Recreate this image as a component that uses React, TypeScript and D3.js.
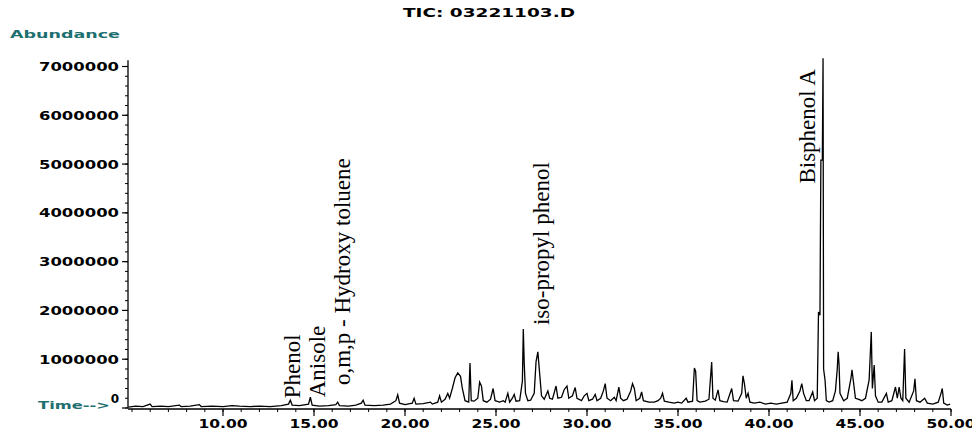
import React from "react";
import * as d3 from "d3";

const chartTitle = "TIC: 03221103.D";
const yAxisTitle = "Abundance";
const xAxisTitle = "Time-->";
const yTickValues = [0, 1000000, 2000000, 3000000, 4000000, 5000000, 6000000, 7000000];
const xTickValues = [10, 15, 20, 25, 30, 35, 40, 45, 50];

// retention time (min)
const times = [
  4.8, 5.2, 5.6, 6.0, 6.1, 6.6, 7.0, 7.6, 7.7, 8.2, 8.7, 8.8, 9.4, 10.0, 10.5, 10.9, 11.5, 12.0, 12.6, 13.2,
  13.6, 13.7, 13.8, 14.2, 14.7, 14.8, 14.9, 15.3, 15.8, 16.2, 16.3, 16.4, 16.9, 17.3, 17.6, 17.7, 17.8, 18.3, 18.8, 19.2,
  19.5, 19.6, 19.7, 20.0, 20.4, 20.5, 20.6, 21.0, 21.4, 21.5, 21.8, 21.9, 22.0, 22.2, 22.35, 22.45, 22.6, 22.75, 22.9, 23.05,
  23.15, 23.3, 23.5, 23.57, 23.64, 23.8, 24.0, 24.1, 24.2, 24.3, 24.5, 24.7, 24.84, 24.95, 25.2, 25.4, 25.5, 25.65, 25.75, 25.9,
  26.0, 26.1, 26.3, 26.45, 26.5, 26.55, 26.62, 26.75, 26.9, 27.1, 27.2, 27.3, 27.4, 27.5, 27.65, 27.85, 27.95, 28.1, 28.3, 28.4,
  28.6, 28.75, 28.9, 29.0, 29.2, 29.35, 29.45, 29.7, 29.85, 30.0, 30.1, 30.3, 30.45, 30.55, 30.75, 30.9, 31.0, 31.1, 31.3, 31.5,
  31.6, 31.75, 31.85, 32.0, 32.2, 32.4, 32.5, 32.6, 32.7, 32.9, 33.0, 33.1, 33.4, 33.7, 33.9, 34.05, 34.15, 34.25, 34.5, 34.8,
  35.0, 35.2, 35.45, 35.55, 35.8, 35.9, 35.97, 36.05, 36.2, 36.5, 36.7, 36.85, 36.92, 37.05, 37.2, 37.3, 37.5, 37.7, 37.95, 38.05,
  38.3, 38.5, 38.57, 38.65, 38.75, 38.85, 38.95, 39.2, 39.5, 39.8, 40.1, 40.4, 40.7, 41.0, 41.2, 41.26, 41.33, 41.5, 41.7, 41.8,
  41.9, 42.05, 42.2, 42.4, 42.5, 42.65, 42.72, 42.8, 42.85, 42.93, 42.97, 43.0, 43.08, 43.15, 43.3, 43.5, 43.65, 43.75, 43.8, 43.85,
  43.9, 44.1, 44.3, 44.4, 44.5, 44.56, 44.62, 44.75, 44.9, 45.1, 45.3, 45.5, 45.62, 45.68, 45.78, 45.85, 46.0, 46.2, 46.45, 46.55,
  46.75, 46.95, 47.05, 47.15, 47.25, 47.35, 47.45, 47.52, 47.7, 47.95, 48.02, 48.1, 48.3, 48.55, 48.7, 49.0, 49.3, 49.45, 49.52, 49.6,
  49.8, 49.95,
];

// abundance, in millions of counts
const abundanceM = [
  0.02, 0.04, 0.03, 0.08, 0.03, 0.04, 0.03, 0.06, 0.03, 0.04, 0.07, 0.03, 0.04, 0.03, 0.05, 0.04, 0.03, 0.04, 0.03, 0.05,
  0.08, 0.16, 0.06, 0.05, 0.08, 0.22, 0.06, 0.04, 0.05, 0.07, 0.12, 0.05, 0.04, 0.06, 0.1, 0.16, 0.06, 0.05, 0.06, 0.08,
  0.15, 0.27, 0.1, 0.07, 0.1, 0.2, 0.08, 0.09, 0.12, 0.08, 0.12, 0.25, 0.12, 0.18, 0.3, 0.2, 0.4, 0.62, 0.72, 0.65,
  0.4, 0.15, 0.12, 0.92, 0.15, 0.14, 0.2, 0.53, 0.45, 0.15, 0.12, 0.18, 0.4, 0.15, 0.12, 0.15, 0.12, 0.3, 0.12, 0.2,
  0.28, 0.14, 0.15, 0.55, 1.62, 0.92, 0.3, 0.15, 0.16, 0.3, 0.95, 1.15, 0.7, 0.25, 0.18, 0.35, 0.2, 0.18, 0.45, 0.2,
  0.22, 0.38, 0.45, 0.2, 0.25, 0.42, 0.2, 0.15, 0.25, 0.3, 0.15, 0.18, 0.28, 0.15, 0.2, 0.35, 0.5, 0.2, 0.15, 0.22,
  0.15, 0.43, 0.2, 0.15, 0.18, 0.35, 0.5, 0.4, 0.15, 0.2, 0.33, 0.15, 0.12, 0.12, 0.15, 0.2, 0.3, 0.14, 0.12, 0.1,
  0.12, 0.1, 0.2, 0.12, 0.14, 0.82, 0.75, 0.15, 0.12, 0.14, 0.18, 0.94, 0.2, 0.16, 0.37, 0.15, 0.13, 0.12, 0.4, 0.15,
  0.14, 0.3, 0.66, 0.5, 0.2, 0.3, 0.12, 0.1, 0.12, 0.08, 0.1, 0.08, 0.1, 0.12, 0.3, 0.57, 0.15, 0.2, 0.35, 0.5,
  0.3, 0.15, 0.15, 0.33, 0.15, 0.2, 1.97, 1.9, 5.08, 5.08, 7.17, 0.8, 0.57, 0.15, 0.12, 0.15, 0.35, 0.8, 1.15, 0.88,
  0.3, 0.15, 0.2, 0.4, 0.6, 0.78, 0.6, 0.2, 0.18, 0.15, 0.2, 0.57, 1.56, 0.4, 0.88, 0.25, 0.12, 0.12, 0.3, 0.12,
  0.15, 0.43, 0.2, 0.43, 0.2, 0.15, 1.21, 0.2, 0.12, 0.35, 0.6, 0.15, 0.12, 0.2, 0.1, 0.08, 0.12, 0.3, 0.4, 0.1,
  0.06, 0.08,
];

// compound labels: name, retention time where the label sits, abundance where it starts
const labelNames = ["Phenol", "Anisole", "o,m,p - Hydroxy toluene", "iso-propyl phenol", "Bisphenol A"];
const labelTimes = [14.23, 15.6, 16.98, 27.9, 42.55];
const labelLevelsM = [0.2, 0.22, 0.47, 1.7, 4.6];

const W = 972;
const H = 430;
const TEAL = "#1d6f70";

export default function App() {
  const x = d3.scaleLinear().domain([4.78, 50]).range([128, 951]);
  const y = d3.scaleLinear().domain([0, 7000000]).range([408, 66.5]);

  const points: [number, number][] = times.map((t, i) => [t, abundanceM[i] * 1e6]);
  const line = d3
    .line<[number, number]>()
    .x((d) => x(d[0]))
    .y((d) => y(d[1]));

  const xMinor = d3.range(5, 50.01, 1);
  const yMinor = d3.range(0, 7000001, 200000);
  const x0 = x.range()[0];
  const y0 = y(0);

  const labelFont = "bold 12px 'DejaVu Sans', Verdana, sans-serif";
  const smallFont = "bold 11px 'DejaVu Sans', Verdana, sans-serif";

  return (
    <svg width={W} height={H} style={{ position: "absolute", left: 0, top: 0, background: "#fff" }}>
      <text x={403} y={17} textLength={172} lengthAdjust="spacingAndGlyphs"
        style={{ font: labelFont }} fill="#000">{chartTitle}</text>
      <text x={10} y={38} textLength={110} lengthAdjust="spacingAndGlyphs"
        style={{ font: smallFont }} fill={TEAL}>{yAxisTitle}</text>
      <text x={38} y={409} textLength={72} lengthAdjust="spacingAndGlyphs"
        style={{ font: smallFont }} fill={TEAL}>{xAxisTitle}</text>

      {/* y axis */}
      <line x1={x0} x2={x0} y1={y0} y2={y(7130000)} stroke="#000" strokeWidth={1.3} />
      {yMinor.map((v) => (
        <line key={"ym" + v} x1={x0 - 3} x2={x0} y1={y(v)} y2={y(v)} stroke="#000" strokeWidth={1} />
      ))}
      {yTickValues.map((v) => (
        <g key={"yt" + v}>
          <line x1={x0 - 6} x2={x0} y1={y(v)} y2={y(v)} stroke="#000" strokeWidth={1.2} />
          {v === 0 ? (
            <text x={119} y={y(v) - 5} textAnchor="end" style={{ font: labelFont }} fill="#000">0</text>
          ) : (
            <text x={119} y={y(v) + 4.5} textAnchor="end" textLength={80} lengthAdjust="spacingAndGlyphs"
              style={{ font: labelFont }} fill="#000">{String(v)}</text>
          )}
        </g>
      ))}

      {/* x axis */}
      <line x1={x0} x2={x(50)} y1={y0 + 1} y2={y0 + 1} stroke="#000" strokeWidth={1.3} />
      {xMinor.map((t) => (
        <line key={"xm" + t} x1={x(t)} x2={x(t)} y1={y0 + 1} y2={y0 + 4} stroke="#000" strokeWidth={1} />
      ))}
      {xTickValues.map((t) => (
        <g key={"xt" + t}>
          <line x1={x(t)} x2={x(t)} y1={y0 + 1} y2={y0 + 8} stroke="#000" strokeWidth={1.2} />
          <text x={x(t)} y={y0 + 20} textAnchor="middle" textLength={49} lengthAdjust="spacingAndGlyphs"
            style={{ font: labelFont }} fill="#000">{t.toFixed(2)}</text>
        </g>
      ))}

      {/* chromatogram */}
      <path d={line(points) || ""} fill="none" stroke="#000" strokeWidth={1.3} strokeLinejoin="miter" />

      {/* compound labels */}
      {labelNames.map((name, i) => {
        const px = x(labelTimes[i]);
        const py = y(labelLevelsM[i] * 1e6);
        return (
          <text key={name} transform={`translate(${px},${py}) rotate(-90)`}
            style={{ font: "23px 'Liberation Serif', 'Times New Roman', serif" }} fill="#000">{name}</text>
        );
      })}
    </svg>
  );
}
